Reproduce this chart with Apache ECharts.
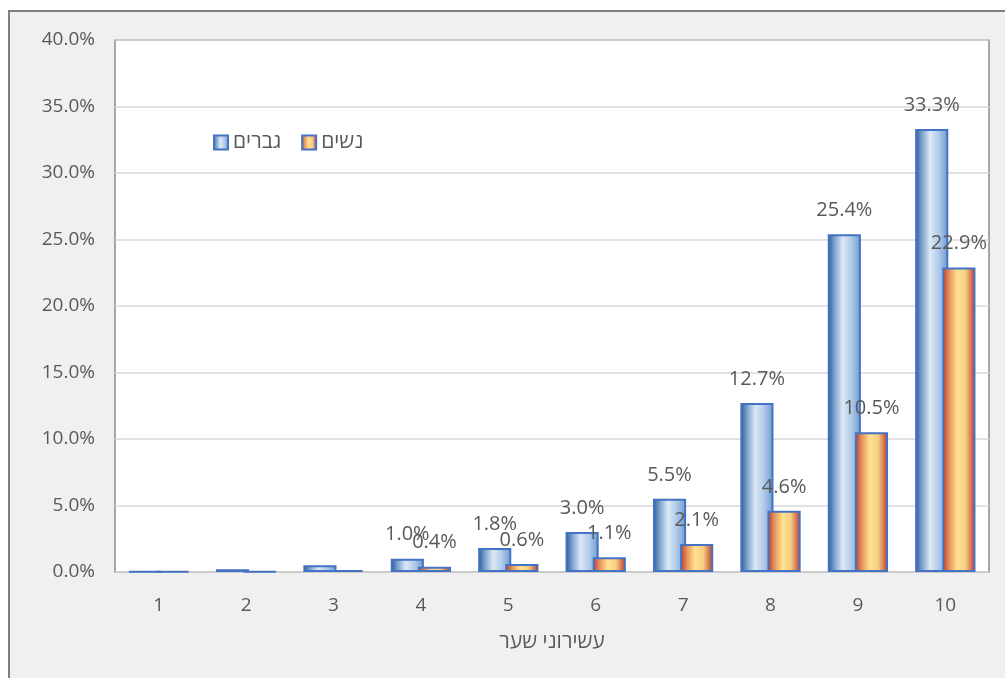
<!DOCTYPE html>
<html>
<head>
<meta charset="utf-8">
<script src="https://cdn.jsdelivr.net/npm/echarts@6/dist/echarts.min.js"></script>
<style>
  html, body { margin: 0; padding: 0; background: #ffffff; }
  #chart { width: 1005px; height: 678px; }
</style>
</head>
<body>
<div id="chart"></div>
<script>
// Income deciles and share (%) by gender
const deciles = ['1', '2', '3', '4', '5', '6', '7', '8', '9', '10'];
const men = [0.05, 0.2, 0.5, 1.0, 1.8, 3.0, 5.5, 12.7, 25.4, 33.3];
const women = [0.03, 0.05, 0.15, 0.4, 0.6, 1.1, 2.1, 4.6, 10.5, 22.9];
const menName = 'גברים';
const womenName = 'נשים';
const axisTitle = 'עשירוני שער';
const firstLabelled = 3; // data labels start from decile 4

const font = '"Open Sans", "Liberation Sans", Arial, sans-serif';
const textGray = '#595959';

const menFill = new echarts.graphic.LinearGradient(0, 0, 1, 0, [
  { offset: 0, color: '#2a5790' },
  { offset: 0.2, color: '#7aa0cd' },
  { offset: 0.45, color: '#dce8f5' },
  { offset: 0.7, color: '#b3cce9' },
  { offset: 1, color: '#6d99d1' }
]);
const womenFill = new echarts.graphic.LinearGradient(0, 0, 1, 0, [
  { offset: 0, color: '#b8382a' },
  { offset: 0.22, color: '#e9965f' },
  { offset: 0.45, color: '#ffe18f' },
  { offset: 0.7, color: '#f6cf82' },
  { offset: 1, color: '#bf3328' }
]);

function valueLabel(p) {
  return p.dataIndex >= firstLabelled ? p.value.toFixed(1) + '%' : '';
}

const chart = echarts.init(document.getElementById('chart'), null, { renderer: 'canvas' });
chart.setOption({
  backgroundColor: '#ffffff',
  animation: false,
  textStyle: { fontFamily: font },
  graphic: [{
    type: 'rect',
    z: -10,
    silent: true,
    shape: { x: 9, y: 11, width: 1010, height: 680 },
    style: { fill: '#f0f0f0', stroke: '#7f7f7f', lineWidth: 2 }
  }],
  grid: {
    left: 115, right: 16, top: 40, bottom: 106,
    show: true,
    backgroundColor: '#ffffff',
    borderColor: '#8c8c8c',
    borderWidth: 1.5
  },
  legend: {
    left: 208, top: 127,
    itemWidth: 14, itemHeight: 14,
    itemGap: 20,
    icon: 'rect',
    textStyle: { color: textGray, fontSize: 21, fontFamily: font },
    data: [menName, womenName]
  },
  xAxis: {
    type: 'category',
    data: deciles,
    name: axisTitle,
    nameLocation: 'middle',
    nameGap: 60,
    nameTextStyle: { color: textGray, fontSize: 21, fontFamily: font },
    axisLine: { show: false },
    axisTick: { show: false },
    axisLabel: { color: textGray, fontSize: 19, margin: 24, fontFamily: font }
  },
  yAxis: {
    type: 'value',
    min: 0, max: 40, interval: 5,
    axisLine: { show: false },
    axisTick: { show: false },
    splitLine: { lineStyle: { color: '#d9d9d9', width: 1.5 } },
    axisLabel: {
      color: textGray, fontSize: 19, margin: 20, fontFamily: font,
      formatter: v => v.toFixed(1) + '%'
    }
  },
  series: [
    {
      name: menName,
      type: 'bar',
      data: men,
      barGap: '-18%',
      barCategoryGap: '31%',
      itemStyle: { color: menFill, borderColor: '#4472c4', borderWidth: 2 },
      label: {
        show: true, position: 'top', distance: 14,
        color: textGray, fontSize: 20, fontFamily: font,
        formatter: valueLabel
      }
    },
    {
      name: womenName,
      type: 'bar',
      data: women,
      itemStyle: { color: womenFill, borderColor: '#4472c4', borderWidth: 2 },
      label: {
        show: true, position: 'top', distance: 14,
        color: textGray, fontSize: 20, fontFamily: font,
        formatter: valueLabel
      }
    }
  ]
});
</script>
</body>
</html>
